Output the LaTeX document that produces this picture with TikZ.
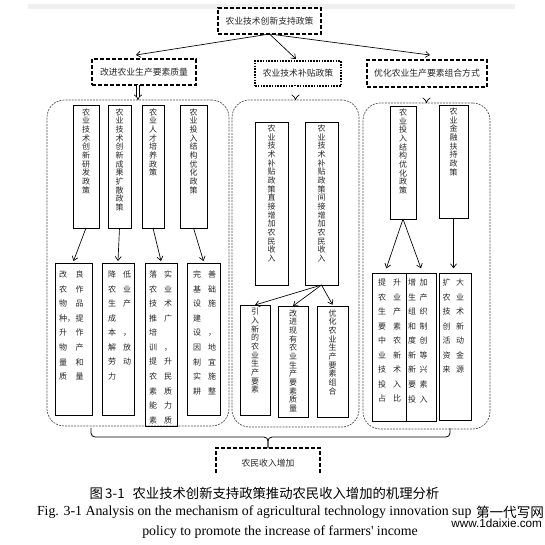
\documentclass[tikz,border=0pt]{standalone}
\usepackage{fontspec}
\setmainfont{Liberation Serif}
\newfontfamily\cjk{Noto Sans CJK SC}
\newfontfamily\wmsans{Liberation Sans}
\usetikzlibrary{arrows.meta,calc}
\makeatletter
\newcommand\vtxt[1]{\vbox{\baselineskip=6.5pt\lineskip=0pt\lineskiplimit=-20pt\@tfor\vt@c:=#1\do{\hbox to 1em{\hss\vt@c\hss}}}}
\makeatother
\newlength\cw
\newcommand\rr[2]{\makebox[\cw][l]{#1}#2}
\newcommand\bx[7]{\node[#6,minimum width={(#4-#2)*0.75pt},minimum height={(#5-#3)*0.75pt}] (#1) at ({(#2+#4)/2},{(#3+#5)/2}) {#7};}
\begin{document}
\begin{tikzpicture}[x=0.75pt,y=-0.75pt,
  every node/.style={inner sep=0pt,outer sep=0pt},
  tbox/.style={draw,line width=1.4pt,dash pattern=on 3pt off 1.5pt},
  mbox/.style={draw,line width=0.9pt,dash pattern=on 1.2pt off 0.9pt},
  panel/.style={draw=black!70,line width=0.5pt,dash pattern=on 1.5pt off 0.8pt,rounded corners=13pt},
  sbox/.style={draw,line width=0.6pt},
  ctext/.style={font=\cjk\fontsize{6.6}{7}\selectfont,text=black!85},
  vtext/.style={font=\cjk\fontsize{6}{6.5}\selectfont,text=black!85},
  ttext/.style={font=\cjk\fontsize{6}{10.9}\selectfont,text=black!85,align=left},
  arr/.style={-{Straight Barb[length=3pt,width=4.5pt]},line width=0.5pt},
  darr/.style={double,double distance=1.6pt,line width=0.5pt,-{Implies}}
]
\useasboundingbox (0,0) rectangle (545,544);
\fill[black!6] (28,4) rectangle (515,9);

% top levels
\bx{top}{218}{8}{321}{34}{tbox,ctext}{农业技术创新支持政策}
\bx{l2}{92}{59}{196}{85}{tbox,ctext}{改进农业生产要素质量}
\bx{m2}{255}{61}{341}{86}{mbox,ctext}{农业技术补贴政策}
\bx{r2}{367}{60}{487}{87}{tbox,ctext}{优化农业生产要素组合方式}

\draw[arr] (top.south) -- ([xshift=-6pt,yshift=3pt]l2.north);
\draw[arr] (top.south) -- ([xshift=-1.5pt,yshift=1.5pt]m2.north);
\draw[arr] (top.south) -- ([xshift=2.25pt,yshift=3.75pt]r2.north);

% panels
\bx{lp}{47}{100}{229}{426}{panel}{}
\bx{mp}{232}{100}{359}{427}{panel}{}
\bx{rp}{363}{103}{490}{429}{panel}{}

\draw[darr] (l2.south -| lp.north) -- (lp.north);
\draw[darr] (m2.south -| mp.north) -- (mp.north);
\draw[darr] (r2.south -| rp.north) -- (rp.north);

% left panel
\bx{la}{73}{105}{99}{228}{sbox}{}
\bx{lb}{108}{105}{131}{228}{sbox}{}
\bx{lc}{142}{105}{164}{228}{sbox}{}
\bx{ld}{180}{105}{207}{228}{sbox}{}
\node[vtext,anchor=north] (la-t) at ([yshift=-2.5pt]la.north) {\vtxt{农业技术创新研发政策}};
\node[vtext,anchor=north] (lb-t) at ([yshift=-2.5pt]lb.north) {\vtxt{农业技术创新成果扩散政策}};
\node[vtext,anchor=north] (lc-t) at ([yshift=-2.5pt]lc.north) {\vtxt{农业人才培养政策}};
\node[vtext,anchor=north] (ld-t) at ([yshift=-2.5pt]ld.north) {\vtxt{农业投入结构优化政策}};

\bx{le}{55}{263}{92}{415}{sbox}{}
\bx{lf}{102}{263}{134}{415}{sbox}{}
\bx{lg}{145}{263}{177}{426}{sbox}{}
\bx{lh}{187}{263}{220}{415}{sbox}{}

\draw[arr] (la.south) -- ([yshift=1.5pt]le.north);
\draw[arr] (lb.south) -- ([yshift=1.5pt]lf.north);
\draw[arr] (lc.south) -- ([yshift=1.5pt]lg.north);
\draw[arr] (ld.south) -- ([yshift=1.5pt]lh.north);

\setlength\cw{12.5pt}
\node[ttext,anchor=north west] (le-t) at ([xshift=3pt,yshift=-6pt]le.north west)
 {\rr{改}{良}\\\rr{农}{作}\\\rr{物}{品}\\\rr{种，}{提}\\\rr{升}{作}\\\rr{物}{产}\\\rr{量}{和}\\\rr{质}{量}};
\setlength\cw{11.25pt}
\node[ttext,anchor=north west] (lf-t) at ([xshift=4.5pt,yshift=-6pt]lf.north west)
 {\rr{降}{低}\\\rr{农}{业}\\\rr{生}{产}\\成\\\rr{本}{，}\\\rr{解}{放}\\\rr{劳}{动}\\力};
\node[ttext,anchor=north west] (lg-t) at ([xshift=3pt,yshift=-6pt]lg.north west)
 {\rr{落}{实}\\\rr{农}{业}\\\rr{技}{术}\\\rr{推}{广}\\培\\\rr{训}{，}\\\rr{提}{升}\\\rr{农}{民}\\\rr{素}{质}\\\rr{能}{力}\\\rr{素}{质}};
\node[ttext,anchor=north west] (lh-t) at ([xshift=4.5pt,yshift=-6pt]lh.north west)
 {\rr{完}{善}\\\rr{基}{础}\\\rr{设}{施}\\建\\\rr{设}{，}\\\rr{因}{地}\\\rr{制}{宜}\\\rr{实}{施}\\\rr{耕}{整}};

% middle panel
\bx{ma}{255}{122}{288}{285}{sbox}{}
\bx{mb}{305}{122}{338}{285}{sbox}{}
\node[vtext,anchor=north] (ma-t) at ([yshift=-2pt]ma.north) {\vtxt{农业技术补贴政策直接增加农民收入}};
\node[vtext,anchor=north] (mb-t) at ([yshift=-2pt]mb.north) {\vtxt{农业技术补贴政策间接增加农民收入}};
\bx{mc}{240}{305}{270}{415}{sbox}{}
\bx{md}{278}{306}{308}{417}{sbox}{}
\bx{me}{317}{306}{348}{417}{sbox}{}
\node[vtext,anchor=north] (mc-t) at ([yshift=-2.5pt]mc.north) {\vtxt{引入新的农业生产要素}};
\node[vtext,anchor=north] (md-t) at ([yshift=-2.5pt]md.north) {\vtxt{改进现有农业生产要素质量}};
\node[vtext,anchor=north] (me-t) at ([yshift=-2.5pt]me.north) {\vtxt{优化农业生产要素组合}};
\draw[arr] (mb.south) -- (mc.north);
\draw[arr] (mb.south) -- (md.north);
\draw[arr] (mb.south) -- ([yshift=1pt]me.north);

% right panel
\bx{ra}{390}{106}{416}{219}{sbox}{}
\bx{rb}{439}{105}{468}{218}{sbox}{}
\node[vtext,anchor=north] (ra-t) at ([yshift=-2pt]ra.north) {\vtxt{农业投入结构优化政策}};
\node[vtext,anchor=north] (rb-t) at ([yshift=-2pt]rb.north) {\vtxt{农业金融扶持政策}};
\bx{rc}{372}{273}{406}{421}{sbox}{}
\bx{rd}{406}{273}{436}{421}{sbox}{}
\bx{re}{439}{273}{471}{420}{sbox}{}
\draw[arr] (ra.south) -- ([xshift=-2pt,yshift=3.5pt]rc.north);
\draw[arr] (ra.south) -- ([yshift=3.5pt]rd.north);
\draw[arr] (rb.south) -- ([yshift=3.5pt]rb.south |- re.north);

\setlength\cw{11.25pt}
\node[ttext,anchor=north west] (rc-t) at ([xshift=4.5pt,yshift=-4.5pt]rc.north west)
 {\rr{提}{升}\\\rr{农}{业}\\\rr{生}{产}\\\rr{要}{素}\\\rr{中}{农}\\\rr{业}{新}\\\rr{技}{术}\\\rr{投}{入}\\\rr{占}{比}};
\setlength\cw{8.8pt}
\node[ttext,anchor=north west] (rd-t) at ([xshift=1.5pt,yshift=-4.5pt]rd.north west)
 {\rr{增}{加}\\\rr{生}{产}\\\rr{组}{织}\\\rr{和}{制}\\\rr{度}{创}\\\rr{新}{等}\\\rr{新}{兴}\\\rr{要}{素}\\\rr{投}{入}};
\setlength\cw{10pt}
\node[ttext,anchor=north west] (re-t) at ([xshift=2.8pt,yshift=-4.5pt]re.north west)
 {\rr{扩}{大}\\\rr{农}{业}\\\rr{技}{术}\\\rr{创}{新}\\\rr{活}{动}\\\rr{资}{金}\\\rr{来}{源}};

% brace and result
\node (bot) at (268,460.5) [minimum width={104*0.75pt},minimum height={25*0.75pt}] {};
\node[ctext] (bot-t) at ([yshift=-2pt]bot.center) {农民收入增加};
\draw[tbox] (bot.south west) -- (bot.north west) -- (bot.north east) -- (bot.south east);
\coordinate (bl) at (91,428);
\coordinate (br) at (450,428);
\draw[line width=0.6pt,rounded corners=3pt] (bl) |- ($(bot.north)+(0,-11)$) -- (bot.north);
\draw[line width=0.6pt,rounded corners=3pt] (br) |- ($(bot.north)+(0,-11)$) -- (bot.north);

% captions
\node[font=\cjk\fontsize{10}{12}\selectfont] (cap) at (264.5,493) {图\,3-1\hspace{6pt}农业技术创新支持政策推动农民收入增加的机理分析};
\node[font=\fontsize{10.4}{12}\selectfont,anchor=west] (en1) at (37,512) {Fig. 3-1 Analysis on the mechanism of agricultural technology innovation sup};
\node[font=\fontsize{10.4}{12}\selectfont] (en2) at (280,532) {policy to promote the increase of farmers\textquotesingle{} income};
\node[font=\cjk\fontsize{10.2}{12}\selectfont,anchor=east] (wm1) at (544,512) {第一代写网};
\node[font=\wmsans\fontsize{8.8}{10}\selectfont,anchor=east] (wm2) at (542,523) {www.1daixie.com};
\end{tikzpicture}
\end{document}
